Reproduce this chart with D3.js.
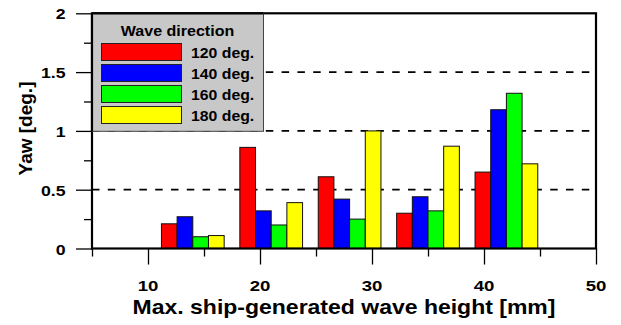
<!DOCTYPE html>
<html><head><meta charset="utf-8">
<script src="https://cdn.jsdelivr.net/npm/d3@7"></script>
<style>body{margin:0;background:#fff}svg{display:block}</style>
</head><body><svg id="c" width="621" height="325"></svg>
<script>
// ---- data ----
const waveHeights = [14, 21, 28, 35, 42];
const directions = ["120 deg.", "140 deg.", "160 deg.", "180 deg."];
const colors = ["#ff0000", "#0000ff", "#00ff00", "#ffff00"];
const yaw120 = [0.21, 0.86, 0.61, 0.30, 0.65];
const yaw140 = [0.27, 0.32, 0.42, 0.44, 1.18];
const yaw160 = [0.10, 0.20, 0.25, 0.32, 1.32];
const yaw180 = [0.11, 0.39, 1.00, 0.87, 0.72];
const xTickLabels = [10, 20, 30, 40, 50];
const xMinorTicks = [5, 15, 25, 35, 45];
const yTickLabels = [0, 0.5, 1, 1.5, 2];
const yMinorTicks = [0.25, 0.75, 1.25, 1.75];
const gridValues = [0.5, 1, 1.5];
const legendTitle = "Wave direction";
const xTitle = "Max. ship-generated wave height [mm]";
const yTitle = "Yaw [deg.]";
const series = [yaw120, yaw140, yaw160, yaw180];

const svg = d3.select("#c");
const L = 92, R = 596, T = 13.3, B = 248.5;
const x = d3.scaleLinear().domain([5, 50]).range([L, R]);
const y = d3.scaleLinear().domain([0, 2]).range([B, T]);
const barW = 1.4; // in data units
const FONT = "'Liberation Sans', Arial, Helvetica, sans-serif";

function sText(parent, px, py, str, size, sx, anchor) {
  return parent.append("text")
    .attr("transform", `translate(${px},${py}) scale(${sx},1)`)
    .attr("text-anchor", anchor)
    .style("font", `bold ${size}px ${FONT}`)
    .attr("fill", "#000")
    .text(str);
}

// grid
svg.append("g").selectAll("line").data(gridValues).join("line")
  .attr("x1", L).attr("x2", R)
  .attr("y1", d => y(d)).attr("y2", d => y(d))
  .attr("stroke", "#000").attr("stroke-width", 1.8)
  .attr("stroke-dasharray", "7.5,8.3");

// bars
const bars = svg.append("g");
series.forEach((vals, i) => {
  bars.selectAll(null).data(vals.map((v, j) => ({v, h: waveHeights[j]}))).join("rect")
    .attr("x", d => x(d.h - 2 * barW + i * barW))
    .attr("width", x(barW) - x(0))
    .attr("y", d => y(d.v))
    .attr("height", d => y(0) - y(d.v))
    .attr("fill", colors[i])
    .attr("stroke", "#111").attr("stroke-width", 1);
});

// axes ticks
const xAxisMajor = d3.axisBottom(x).tickValues(xTickLabels).tickSize(16).tickFormat("");
const xAxisMinor = d3.axisBottom(x).tickValues(xMinorTicks).tickSize(8).tickFormat("");
const yAxisMajor = d3.axisLeft(y).tickValues(yTickLabels).tickSize(16).tickFormat("");
const yAxisMinor = d3.axisLeft(y).tickValues(yMinorTicks).tickSize(8).tickFormat("");
[[xAxisMajor, `translate(0,${B})`], [xAxisMinor, `translate(0,${B})`],
 [yAxisMajor, `translate(${L},0)`], [yAxisMinor, `translate(${L},0)`]].forEach(([ax, tr]) => {
  const g = svg.append("g").attr("transform", tr).call(ax);
  g.select(".domain").remove();
  g.selectAll(".tick line").attr("stroke", "#000").attr("stroke-width", 1.3);
});

// tick labels
const labG = svg.append("g");
xTickLabels.forEach(v => sText(labG, x(v), 291, String(v), 15.5, 1.2, "middle"));
yTickLabels.forEach(v => sText(labG, 65.5, y(v) + 6, String(v), 14.5, 1.22, "end"));

// frame
svg.append("rect").attr("x", L).attr("y", T).attr("width", R - L).attr("height", B - T)
  .attr("fill", "none").attr("stroke", "#000").attr("stroke-width", 2.2);

// legend
const lg = svg.append("g");
lg.append("rect").attr("x", L).attr("y", T).attr("width", 263.5 - L).attr("height", 131.3 - T)
  .attr("fill", "#c8c8c8").attr("stroke", "#444").attr("stroke-width", 1);
lg.append("line").attr("x1", L).attr("x2", L).attr("y1", T).attr("y2", 131.3)
  .attr("stroke", "#000").attr("stroke-width", 2.2);
lg.append("line").attr("x1", L).attr("x2", 263.5).attr("y1", T).attr("y2", T)
  .attr("stroke", "#000").attr("stroke-width", 2.2);
sText(lg, 177.5, 36, legendTitle, 15, 1.07, "middle");
directions.forEach((d, i) => {
  const yy = 43.5 + i * 21;
  lg.append("rect").attr("x", 101.5).attr("y", yy).attr("width", 80).attr("height", 17)
    .attr("fill", colors[i]).attr("stroke", "#222").attr("stroke-width", 1);
  sText(lg, 191, yy + 14, d, 14, 1.13, "start");
});

// titles
sText(svg, 344, 314, xTitle, 19.5, 1.18, "middle");
svg.append("text")
  .attr("transform", `translate(32,128.5) rotate(-90)`)
  .attr("text-anchor", "middle")
  .style("font", `bold 19px ${FONT}`)
  .text(yTitle);
</script>
</body></html>
